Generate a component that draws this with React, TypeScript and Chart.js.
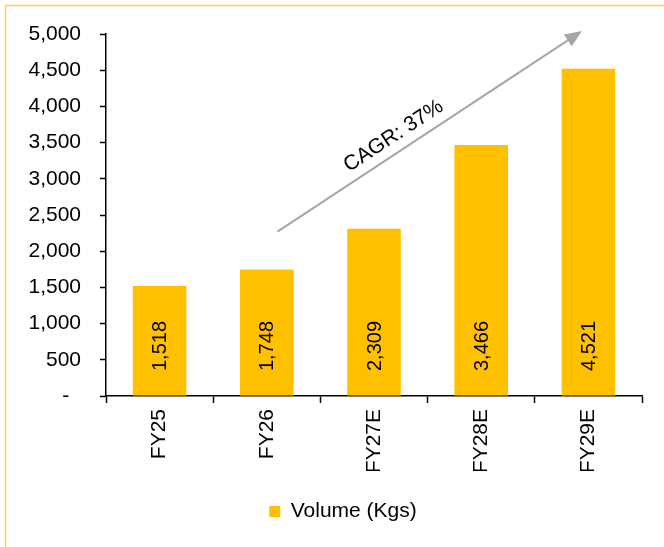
import React, { useEffect, useRef } from "react";
import { Chart, registerables } from "chart.js";

Chart.register(...registerables);

// Annual volume, actuals and estimates
const categories = ["FY25", "FY26", "FY27E", "FY28E", "FY29E"];
const volumeKgs = [1518, 1748, 2309, 3466, 4521];
const seriesLabel = "Volume (Kgs)";

// Growth arrow, in data space: [category index, value]
const arrowFrom = [1.1, 2270];
const arrowTo = [3.94, 5040];
const arrowLabel = "CAGR: 37%";

const FONT = "'Liberation Sans', Arial, Helvetica, sans-serif";
const FONT_SIZE = 21;
const BAR_COLOR = "#FFC000";
const FRAME_COLOR = "#FFD54F";

// accounting-style: zero shows as a dash with trailing padding
const fmt = (v: number) => (v === 0 ? "-  " : v.toLocaleString("en-US"));

const framePlugin = {
  id: "frame",
  beforeDraw(chart: any) {
    const { ctx, width, height } = chart;
    ctx.save();
    ctx.fillStyle = "#ffffff";
    ctx.fillRect(0, 0, width, height);
    ctx.strokeStyle = FRAME_COLOR;
    ctx.lineWidth = 1.5;
    ctx.beginPath();
    ctx.moveTo(5.5, height);
    ctx.lineTo(5.5, 5.5);
    ctx.lineTo(width, 5.5);
    ctx.stroke();
    ctx.restore();
  },
};

// nudge the legend right so it centres under the whole frame
const legendShiftPlugin = {
  id: "legendShift",
  afterLayout(chart: any) {
    const lg = chart.legend;
    if (!lg) return;
    lg.left += 22;
    lg.right += 22;
  },
};

const barLabelPlugin = {
  id: "barLabels",
  afterDatasetsDraw(chart: any) {
    const { ctx } = chart;
    const yScale = chart.scales.y;
    const base = yScale.getPixelForValue(0);
    const meta = chart.getDatasetMeta(0);
    ctx.save();
    ctx.fillStyle = "#000";
    ctx.font = `20px ${FONT}`;
    ctx.textAlign = "left";
    ctx.textBaseline = "middle";
    meta.data.forEach((bar: any, i: number) => {
      ctx.save();
      ctx.translate(bar.x, base - 25);
      ctx.rotate(-Math.PI / 2);
      ctx.fillText(fmt(volumeKgs[i]), 0, 1);
      ctx.restore();
    });
    ctx.restore();
  },
};

const arrowPlugin = {
  id: "cagrArrow",
  afterDraw(chart: any) {
    const { ctx } = chart;
    const xs = chart.scales.x;
    const ys = chart.scales.y;
    const x1 = xs.getPixelForValue(arrowFrom[0]);
    const y1 = ys.getPixelForValue(arrowFrom[1]);
    const x2 = xs.getPixelForValue(arrowTo[0]);
    const y2 = ys.getPixelForValue(arrowTo[1]);
    const ang = Math.atan2(y2 - y1, x2 - x1);
    const headLen = 17;
    const headHalf = 7;
    ctx.save();
    ctx.strokeStyle = "#A6A6A6";
    ctx.fillStyle = "#A6A6A6";
    ctx.lineWidth = 2;
    const bx = x2 - headLen * Math.cos(ang);
    const by = y2 - headLen * Math.sin(ang);
    ctx.beginPath();
    ctx.moveTo(x1, y1);
    ctx.lineTo(bx, by);
    ctx.stroke();
    ctx.beginPath();
    ctx.moveTo(x2, y2);
    ctx.lineTo(bx + headHalf * Math.sin(ang), by - headHalf * Math.cos(ang));
    ctx.lineTo(bx - headHalf * Math.sin(ang), by + headHalf * Math.cos(ang));
    ctx.closePath();
    ctx.fill();

    // label sits above the shaft, a little before its midpoint
    const t = 0.41;
    const off = 16;
    const px = x1 + (x2 - x1) * t + off * Math.sin(ang);
    const py = y1 + (y2 - y1) * t - off * Math.cos(ang);
    ctx.translate(px, py);
    ctx.rotate(ang);
    ctx.fillStyle = "#000";
    ctx.font = `${FONT_SIZE}px ${FONT}`;
    ctx.textAlign = "center";
    ctx.textBaseline = "middle";
    ctx.fillText(arrowLabel, 0, 0);
    ctx.restore();
  },
};

export default function App() {
  const ref = useRef<HTMLCanvasElement>(null);

  useEffect(() => {
    if (!ref.current) return;
    const chart = new Chart(ref.current, {
      type: "bar",
      data: {
        labels: categories,
        datasets: [
          {
            label: seriesLabel,
            data: volumeKgs,
            backgroundColor: BAR_COLOR,
            borderWidth: 0,
            barPercentage: 0.5,
            categoryPercentage: 1,
          },
        ],
      },
      options: {
        responsive: false,
        animation: false,
        devicePixelRatio: 1,
        layout: { padding: { left: 0, right: 22, top: 34, bottom: 15 } },
        plugins: {
          tooltip: { enabled: false },
          legend: {
            position: "bottom",
            labels: {
              boxWidth: 11,
              boxHeight: 11,
              padding: 30,
              color: "#000",
              font: { family: FONT, size: FONT_SIZE },
            },
          },
        },
        scales: {
          x: {
            afterFit: (s: any) => {
              s.height = 75;
            },
            grid: {
              drawOnChartArea: false,
              drawTicks: true,
              tickLength: 7,
              tickColor: "#000",
              tickWidth: 1.5,
            },
            border: { display: true, color: "#000", width: 1.5 },
            ticks: {
              minRotation: 90,
              maxRotation: 90,
              padding: 6,
              color: "#000",
              font: { family: FONT, size: FONT_SIZE },
            },
          },
          y: {
            min: 0,
            max: 5000,
            afterFit: (s: any) => {
              s.width = 106;
            },
            grid: {
              drawOnChartArea: false,
              drawTicks: true,
              tickLength: 6,
              tickColor: "#000",
              tickWidth: 1.5,
            },
            border: { display: true, color: "#000", width: 1.5 },
            ticks: {
              stepSize: 500,
              padding: 19,
              color: "#000",
              font: { family: FONT, size: FONT_SIZE },
              callback: (v: any) => fmt(Number(v)),
            },
          },
        },
      },
      plugins: [framePlugin, legendShiftPlugin, barLabelPlugin, arrowPlugin],
    });
    return () => chart.destroy();
  }, []);

  return (
    <div
      style={{
        position: "fixed",
        left: 0,
        top: 0,
        width: 664,
        height: 547,
        background: "#fff",
      }}
    >
      <canvas ref={ref} width={664} height={547} style={{ display: "block" }} />
    </div>
  );
}
